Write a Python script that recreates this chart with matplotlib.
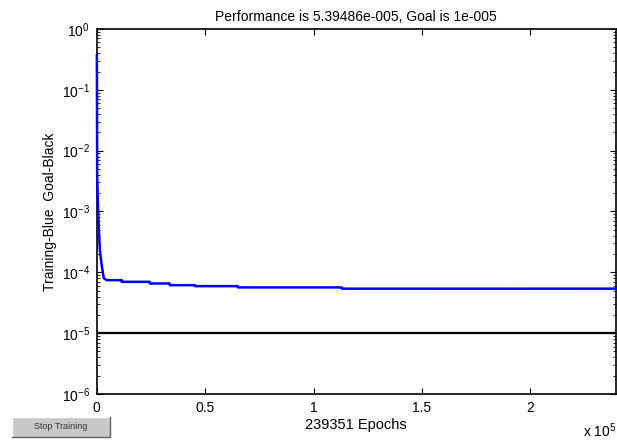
import math
import matplotlib.pyplot as plt
import matplotlib.ticker as mticker
from matplotlib.patches import Rectangle
from matplotlib.lines import Line2D

plt.rcParams['font.family'] = ['Liberation Sans', 'DejaVu Sans']
plt.rcParams['mathtext.fontset'] = 'custom'
plt.rcParams['mathtext.rm'] = 'Liberation Sans'

# training record (epochs, performance)
epochs = [0, 150, 460, 920, 1380, 2300, 3200, 4500,
          11500, 11500, 24400, 24400, 33600, 33600,
          45200, 45200, 65000, 65000, 113000, 113000, 239351]
perf = [0.37, 3.7e-3, 1.4e-3, 5.0e-4, 2.3e-4, 1.26e-4, 8.0e-5, 7.44e-5,
        7.44e-5, 6.98e-5, 6.98e-5, 6.56e-5, 6.56e-5, 6.15e-5,
        6.15e-5, 5.93e-5, 5.93e-5, 5.65e-5, 5.65e-5, 5.39e-5, 5.39486e-5]
goal = 1e-5
total_epochs = 239351
x_ticks = [0, 50000, 100000, 150000, 200000]

fig = plt.figure(figsize=(6.17, 4.44), dpi=100)
ax = fig.add_axes([0.157, 0.1126, 0.841, 0.8221])

ax.semilogy(epochs, perf, color='#0000ff', lw=1.8, zorder=3, clip_on=False)
ax.plot([0, total_epochs], [goal, goal], color='black', lw=1.6)

ax.set_xlim(0, total_epochs)
ax.set_ylim(1e-6, 1)
ax.set_xticks(x_ticks)
ax.xaxis.set_major_formatter(mticker.FuncFormatter(lambda v, p: '%g' % (v / 1e5)))
ax.yaxis.set_major_locator(mticker.LogLocator(base=10, numticks=10))
ax.yaxis.set_major_formatter(mticker.FuncFormatter(
    lambda v, p: r'$\mathrm{10^{%d}}$' % round(math.log10(v))))
ax.yaxis.set_minor_locator(mticker.LogLocator(base=10, subs=range(2, 10), numticks=10))
ax.yaxis.set_minor_formatter(mticker.NullFormatter())

ax.tick_params(which='both', direction='in', top=True, right=True,
               labelsize=10, color='black')
ax.tick_params(which='major', length=4, width=0.8, pad=5)
ax.tick_params(which='minor', length=2.5, width=0.6)
for s in ax.spines.values():
    s.set_linewidth(1.2)

ax.set_title('Performance is 5.39486e-005, Goal is 1e-005', fontsize=10, pad=6)
ax.set_xlabel('239351 Epochs', fontsize=10.5, labelpad=2)
ax.set_ylabel('Training-Blue  Goal-Black', fontsize=10, labelpad=3)

fig.text(0.945, 0.015, r'x $\mathrm{10^{5}}$', fontsize=10)

# "Stop Training" button in the lower left corner
bx, by, bw, bh = 0.02, 0.016, 0.158, 0.045
fig.patches.append(Rectangle((bx, by), bw, bh, transform=fig.transFigure,
                             facecolor='#c8c8c8', edgecolor='none'))
fig.lines.append(Line2D([bx, bx, bx + bw], [by, by + bh, by + bh],
                        transform=fig.transFigure, color='white', lw=1))
fig.lines.append(Line2D([bx, bx + bw, bx + bw], [by, by, by + bh],
                        transform=fig.transFigure, color='#606060', lw=1))
fig.text(bx + bw / 2, by + bh / 2, 'Stop Training', fontsize=6.5, color='#333333',
         ha='center', va='center')

fig.savefig('out.png', dpi=100)
